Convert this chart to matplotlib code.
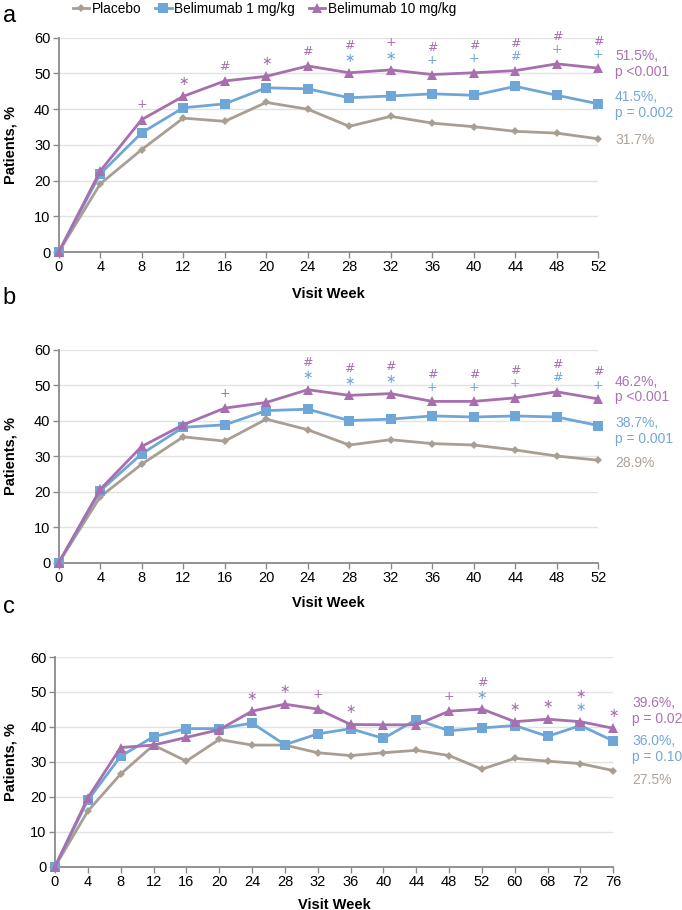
#!/usr/bin/env python3
"""Response rates by visit week for placebo and two belimumab doses (three panels)."""

import matplotlib

matplotlib.use("Agg")
import matplotlib.pyplot as plt

plt.rcParams["font.family"] = ["Liberation Sans", "DejaVu Sans"]

SERIES_NAMES = ["Placebo", "Belimumab 1 mg/kg", "Belimumab 10 mg/kg"]

WEEKS_AB = [0, 4, 8, 12, 16, 20, 24, 28, 32, 36, 40, 44, 48, 52]
WEEKS_C = [0, 4, 8, 12, 16, 20, 24, 28, 32, 36, 40, 44, 48, 52, 60, 68, 72, 76]

# panel a
PLACEBO_A = [0, 19.1, 28.7, 37.5, 36.6, 41.9, 40.0, 35.2, 38.0, 36.1, 35.1, 33.8, 33.3, 31.7]
BEL1_A = [0, 21.9, 33.4, 40.4, 41.5, 46.0, 45.7, 43.2, 43.7, 44.3, 43.9, 46.4, 43.9, 41.5]
BEL10_A = [0, 22.7, 37.1, 43.6, 47.9, 49.2, 52.1, 50.2, 51.0, 49.7, 50.2, 50.8, 52.7, 51.5]
SIG10_A = ["", "", "+", "*", "#", "*", "#", "#", "+", "#", "#", "#", "#", "#"]
SIG1_A = ["", "", "", "", "", "", "", "*", "*", "+", "+", "#", "+", "+"]
END_A = ["31.7%", "41.5%,\np = 0.002", "51.5%,\np <0.001"]

# panel b
PLACEBO_B = [0, 18.6, 27.8, 35.5, 34.3, 40.5, 37.5, 33.2, 34.7, 33.6, 33.2, 31.8, 30.1, 28.9]
BEL1_B = [0, 20.3, 30.7, 38.2, 38.9, 42.9, 43.3, 40.1, 40.5, 41.4, 41.1, 41.4, 41.1, 38.7]
BEL10_B = [0, 20.7, 32.8, 38.9, 43.6, 45.2, 48.8, 47.2, 47.7, 45.5, 45.5, 46.5, 48.2, 46.2]
SIG10_B = ["", "", "", "", "+", "", "#", "#", "#", "#", "#", "#", "#", "#"]
SIG1_B = ["", "", "", "", "", "", "*", "*", "*", "+", "+", "+", "#", "+"]
END_B = ["28.9%", "38.7%,\np = 0.001", "46.2%,\np <0.001"]

# panel c
PLACEBO_C = [0, 15.9, 26.5, 34.8, 30.2, 36.4, 34.8, 34.8, 32.6, 31.8, 32.6, 33.3, 31.8, 27.9,
             31.0, 30.2, 29.5, 27.5]
BEL1_C = [0, 19.0, 31.6, 37.2, 39.5, 39.5, 41.1, 34.9, 38.0, 39.5, 36.7, 42.1, 38.9, 39.7,
          40.4, 37.3, 40.4, 36.0]
BEL10_C = [0, 19.7, 34.1, 34.8, 37.0, 39.2, 44.5, 46.5, 45.1, 40.7, 40.6, 40.6, 44.5, 45.1,
           41.5, 42.2, 41.5, 39.6]
SIG10_C = ["", "", "", "", "", "", "*", "*", "+", "*", "", "", "+", "#", "*", "*", "*", "*"]
SIG1_C = ["", "", "", "", "", "", "", "", "", "", "", "", "", "*", "", "", "*", ""]
END_C = ["27.5%", "36.0%,\np = 0.10", "39.6%,\np = 0.02"]

GREY = "#a99e93"
BLUE = "#6fa6d8"
PURPLE = "#a76fae"
TEXT_COLORS = ["#aea398", "#74a8d8", "#ab72b0"]
COLORS = [GREY, BLUE, PURPLE]
MARKERS = [("D", 4.5), ("s", 7), ("^", 7)]
SPINE = "#8a8a8a"


def put_symbol(ax, s, xi, yi, dy, color):
    ax.annotate("\u2217" if s == "*" else s, (xi, yi), xytext=(0, dy), textcoords="offset points",
                ha="center", va="center", color=color, fontsize=9, family="DejaVu Sans")


def draw_panel(ax, x, ticklabels, series, sig10, sig1, end_labels, end_y, end_dx, ylab_x, xlab_y):
    ax.set_ylim(0, 60)
    ax.set_xlim(x[0], x[-1])
    ax.set_yticks(range(0, 61, 10))
    ax.set_xticks(x)
    ax.set_xticklabels(ticklabels)
    ax.grid(axis="y", color="#e2e2e2", linewidth=1.0)
    ax.set_axisbelow(True)
    for side in ("top", "right"):
        ax.spines[side].set_visible(False)
    for side in ("left", "bottom"):
        ax.spines[side].set_color(SPINE)
        ax.spines[side].set_linewidth(1.3)
    ax.tick_params(axis="both", colors=SPINE, labelcolor="black", labelsize=10.5,
                   length=4, width=1.0, pad=2)

    lines = []
    for values, color, (mk, ms), name in zip(series, COLORS, MARKERS, SERIES_NAMES):
        ln, = ax.plot(x, values, color=color, linewidth=2.0, marker=mk, markersize=ms,
                      markeredgewidth=0, clip_on=False, label=name, zorder=3)
        lines.append(ln)

    top = series[2]
    for xi, yi, s10, s1 in zip(x, top, sig10, sig1):
        if s1:
            put_symbol(ax, s1, xi, yi, 10, BLUE)
            if s10:
                put_symbol(ax, s10, xi, yi, 19.5, PURPLE)
        elif s10:
            put_symbol(ax, s10, xi, yi, 10.5, PURPLE)

    for text, y, color in zip(end_labels, end_y, TEXT_COLORS):
        ax.annotate(text, (1.0, y), xycoords=ax.get_yaxis_transform(),
                    xytext=(end_dx, 0), textcoords="offset points",
                    ha="left", va="center", color=color, fontsize=10,
                    linespacing=1.15, annotation_clip=False)

    ax.set_ylabel("Patients, %", fontsize=10.5, fontweight="bold")
    ax.yaxis.set_label_coords(ylab_x, 0.5)
    ax.set_xlabel("Visit Week", fontsize=10.5, fontweight="bold")
    ax.xaxis.set_label_coords(0.5, xlab_y)
    return lines


def main() -> int:
    fig = plt.figure(figsize=(6.82, 9.10), dpi=100)
    ax_a = fig.add_axes([0.0861, 0.723, 0.7912, 0.2355])
    ax_b = fig.add_axes([0.0861, 0.3816, 0.7912, 0.2338])
    ax_c = fig.add_axes([0.0806, 0.0476, 0.8187, 0.2304])

    lines = draw_panel(ax_a, WEEKS_AB, WEEKS_AB, [PLACEBO_A, BEL1_A, BEL10_A],
                       SIG10_A, SIG1_A, END_A, [31.5, 41.1, 52.7], 12, -0.077, -0.165)
    draw_panel(ax_b, WEEKS_AB, WEEKS_AB, [PLACEBO_B, BEL1_B, BEL10_B],
               SIG10_B, SIG1_B, END_B, [28.2, 37.2, 48.9], 12, -0.077, -0.158)
    idx_c = list(range(len(WEEKS_C)))
    draw_panel(ax_c, idx_c, WEEKS_C, [PLACEBO_C, BEL1_C, BEL10_C],
               SIG10_C, SIG1_C, END_C, [24.8, 33.6, 44.6], 13.5, -0.068, -0.148)

    for letter, y in (("a", 0.982), ("b", 0.672), ("c", 0.333)):
        fig.text(0.004, y, letter, fontsize=17, va="center", ha="left")

    fig.legend(handles=lines, loc="center left", bbox_to_anchor=(0.107, 0.9905), ncol=3,
               frameon=False, fontsize=9.8, handlelength=1.2, handletextpad=0.2,
               columnspacing=1.0, borderaxespad=0, borderpad=0)

    fig.savefig("out.png", dpi=100)
    plt.close(fig)
    return 0


if __name__ == "__main__":
    raise SystemExit(main())
